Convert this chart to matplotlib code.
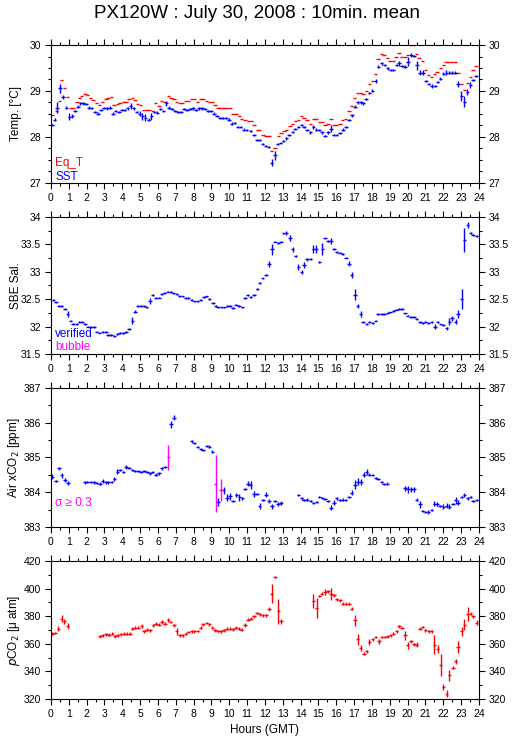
import numpy as np
import matplotlib
matplotlib.use('Agg')
import matplotlib.pyplot as plt
from matplotlib.ticker import MultipleLocator, FormatStrFormatter

plt.rcParams['font.family'] = ['Liberation Sans', 'DejaVu Sans']
plt.rcParams['axes.linewidth'] = 0.8

# ---------------- data (hour GMT, value) ----------------
# Panel 1: SST (blue) and equilibrator temperature (red)
sst_t = [0.05, 0.2, 0.33, 0.5, 0.67, 0.87, 1.03, 1.2, 1.35, 1.5, 1.65, 1.8, 1.97, 2.13, 2.28,
         2.47, 2.63, 2.8, 2.97, 3.13, 3.3, 3.47, 3.63, 3.8, 3.97, 4.13, 4.3, 4.47, 4.63, 4.8,
         4.97, 5.13, 5.3, 5.47, 5.63, 5.8, 5.97, 6.13, 6.3, 6.47, 6.63, 6.8, 6.97, 7.13, 7.3,
         7.47, 7.63, 7.8, 7.97, 8.13, 8.3, 8.47, 8.63, 8.8, 8.97, 9.13, 9.3, 9.47, 9.63, 9.8,
         9.97, 10.13, 10.3, 10.47, 10.63, 10.8, 10.97, 11.2, 11.38, 11.55, 11.7, 11.87, 12.03,
         12.2, 12.37, 12.55, 12.71, 12.88, 13.03, 13.2, 13.36, 13.55, 13.7, 13.87, 14.05, 14.2,
         14.37, 14.55, 14.71, 14.88, 15.05, 15.2, 15.36, 15.52, 15.7, 15.85, 16.02, 16.2, 16.38,
         16.55, 16.72, 16.88, 17.05, 17.2, 17.38, 17.52, 17.68, 17.85, 18.03, 18.2, 18.36, 18.54,
         18.71, 18.88, 19.05, 19.2, 19.38, 19.53, 19.7, 19.86, 20.02, 20.2, 20.35, 20.52, 20.7,
         20.86, 21.02, 21.18, 21.35, 21.52, 21.68, 21.84, 22.0, 22.17, 22.34, 22.5, 22.67, 22.84,
         23.02, 23.18, 23.35, 23.52, 23.68, 23.84]
sst_v = [28.26, 28.38, 28.64, 29.06, 28.87, 28.64, 28.44, 28.45, 28.56, 28.66, 28.73, 28.73,
         28.71, 28.64, 28.63, 28.55, 28.51, 28.58, 28.63, 28.62, 28.64, 28.51, 28.56, 28.55,
         28.58, 28.58, 28.62, 28.67, 28.62, 28.55, 28.51, 28.45, 28.42, 28.38, 28.45, 28.55,
         28.53, 28.61, 28.56, 28.73, 28.64, 28.61, 28.56, 28.55, 28.55, 28.61, 28.58, 28.61,
         28.62, 28.58, 28.62, 28.62, 28.61, 28.56, 28.56, 28.51, 28.45, 28.42, 28.42, 28.42,
         28.38, 28.29, 28.31, 28.22, 28.22, 28.16, 28.15, 28.13, 28.05, 27.93, 27.93, 27.84,
         27.80, 27.78, 27.44, 27.60, 27.84, 27.87, 27.91, 27.97, 28.04, 28.11, 28.17, 28.22,
         28.26, 28.21, 28.15, 28.10, 28.22, 28.16, 28.15, 28.10, 28.02, 28.10, 28.18, 28.04,
         28.05, 28.09, 28.16, 28.22, 28.37, 28.47, 28.66, 28.75, 28.75, 28.73, 28.82, 28.96,
         29.01, 29.22, 29.53, 29.60, 29.56, 29.49, 29.46, 29.46, 29.56, 29.60, 29.54, 29.53,
         29.64, 29.78, 29.76, 29.56, 29.40, 29.40, 29.22, 29.15, 29.11, 29.11, 29.20, 29.27,
         29.38, 29.40, 29.40, 29.40, 29.40, 29.15, 28.89, 28.77, 28.98, 29.13, 29.24, 29.33]
sst_err = {0.33: 0.12, 0.5: 0.1, 0.67: 0.05, 0.87: 0.04, 1.03: 0.08, 1.2: 0.04, 4.47: 0.07,
           4.97: 0.05, 5.13: 0.08, 5.3: 0.07, 5.47: 0.04, 5.63: 0.08, 6.47: 0.05, 12.37: 0.08,
           12.55: 0.09, 14.71: 0.05, 15.2: 0.04, 15.7: 0.07, 18.2: 0.05, 19.53: 0.06,
           20.02: 0.1, 20.2: 0.04, 20.52: 0.1, 20.7: 0.06, 20.86: 0.05, 21.35: 0.05,
           22.17: 0.05, 22.84: 0.06, 23.02: 0.1, 23.18: 0.12, 23.35: 0.06, 23.52: 0.06}
eqt_t = [0.07, 0.3, 0.47, 0.6, 0.75, 0.93, 1.1, 1.25, 1.45, 1.6, 1.72, 1.9, 2.04, 2.22, 2.37,
         2.56, 2.71, 2.9, 3.08, 3.21, 3.4, 3.53, 3.72, 3.87, 4.06, 4.2, 4.39, 4.56, 4.71, 4.86,
         5.03, 5.18, 5.36, 5.51, 5.7, 5.87, 6.06, 6.2, 6.39, 6.58, 6.73, 6.9, 7.05, 7.23, 7.38,
         7.55, 7.7, 7.89, 8.04, 8.22, 8.39, 8.54, 8.73, 8.88, 9.05, 9.2, 9.38, 9.53, 9.7, 9.85,
         10.04, 10.22, 10.37, 10.56, 10.69, 10.88, 11.07, 11.25, 11.38, 11.57, 11.7, 11.9,
         12.06, 12.22, 12.37, 12.56, 12.75, 12.9, 13.07, 13.2, 13.4, 13.55, 13.72, 13.87, 14.05,
         14.2, 14.37, 14.56, 14.71, 14.86, 15.05, 15.22, 15.36, 15.52, 15.7, 15.87, 16.02, 16.2,
         16.36, 16.52, 16.71, 16.86, 17.01, 17.2, 17.36, 17.5, 17.7, 17.85, 18.02, 18.21, 18.35,
         18.54, 18.69, 18.86, 19.01, 19.2, 19.35, 19.53, 19.66, 19.85, 20.0, 20.17, 20.32, 20.5,
         20.65, 20.84, 21.0, 21.16, 21.35, 21.5, 21.66, 21.85, 22.0, 22.15, 22.3, 22.47, 22.65,
         22.84, 23.03, 23.18, 23.35, 23.53, 23.68, 23.83]
eqt_v = [28.47, 28.56, 28.79, 29.24, 29.06, 28.87, 28.63, 28.62, 28.77, 28.84, 28.90, 28.93,
         28.91, 28.84, 28.80, 28.74, 28.69, 28.75, 28.82, 28.84, 28.86, 28.69, 28.71, 28.73,
         28.75, 28.75, 28.82, 28.85, 28.80, 28.71, 28.69, 28.58, 28.58, 28.58, 28.57, 28.73,
         28.68, 28.79, 28.77, 28.89, 28.85, 28.82, 28.77, 28.74, 28.74, 28.79, 28.78, 28.82,
         28.82, 28.77, 28.82, 28.82, 28.78, 28.77, 28.77, 28.69, 28.63, 28.62, 28.63, 28.64,
         28.62, 28.51, 28.51, 28.45, 28.40, 28.38, 28.35, 28.34, 28.26, 28.15, 28.15, 28.04,
         28.02, 28.02, 27.69, 27.75, 28.02, 28.08, 28.13, 28.15, 28.24, 28.28, 28.35, 28.38,
         28.46, 28.42, 28.38, 28.29, 28.40, 28.40, 28.32, 28.32, 28.26, 28.29, 28.40, 28.26,
         28.26, 28.29, 28.38, 28.40, 28.56, 28.67, 28.84, 28.95, 28.95, 28.93, 29.01, 29.15,
         29.22, 29.38, 29.69, 29.80, 29.78, 29.71, 29.65, 29.65, 29.73, 29.82, 29.75, 29.75,
         29.78, 29.995, 29.995, 29.80, 29.71, 29.66, 29.46, 29.35, 29.31, 29.36, 29.42, 29.49,
         29.56, 29.62, 29.62, 29.62, 29.62, 29.40, 29.16, 29.02, 29.18, 29.31, 29.46, 29.54]

# Panel 2: SBE salinity (all verified)
sal_t = [0.13, 0.28, 0.45, 0.6, 0.79, 0.93, 1.1, 1.25, 1.44, 1.59, 1.74, 1.9, 2.06, 2.22, 2.41,
         2.56, 2.71, 2.9, 3.07, 3.21, 3.36, 3.55, 3.72, 3.87, 4.06, 4.2, 4.39, 4.56, 4.71, 4.86,
         5.03, 5.21, 5.36, 5.55, 5.7, 5.87, 6.06, 6.2, 6.36, 6.54, 6.71, 6.86, 7.05, 7.2, 7.38,
         7.55, 7.7, 7.89, 8.04, 8.22, 8.39, 8.58, 8.73, 8.88, 9.07, 9.23, 9.38, 9.57, 9.72, 9.89,
         10.04, 10.22, 10.37, 10.54, 10.73, 10.88, 11.03, 11.2, 11.38, 11.57, 11.7, 11.87, 12.06,
         12.22, 12.41, 12.56, 12.75, 12.9, 13.03, 13.2, 13.4, 13.55, 13.72, 13.87, 14.05, 14.2,
         14.37, 14.56, 14.71, 14.86, 15.05, 15.22, 15.36, 15.52, 15.7, 15.87, 16.02, 16.2, 16.36,
         16.54, 16.71, 16.86, 17.05, 17.2, 17.36, 17.5, 17.7, 17.85, 18.04, 18.21, 18.35, 18.54,
         18.69, 18.86, 19.01, 19.2, 19.35, 19.53, 19.7, 19.85, 20.0, 20.2, 20.36, 20.5, 20.7,
         20.84, 21.0, 21.16, 21.35, 21.53, 21.68, 21.85, 22.0, 22.19, 22.34, 22.5, 22.69, 22.84,
         23.03, 23.18, 23.36, 23.53, 23.68, 23.87]
sal_v = [32.49, 32.44, 32.37, 32.37, 32.32, 32.23, 32.11, 32.05, 32.05, 32.08, 32.08, 32.05,
         32.00, 31.99, 31.99, 31.91, 31.89, 31.90, 31.90, 31.85, 31.85, 31.83, 31.87, 31.88,
         31.88, 31.90, 31.96, 32.11, 32.27, 32.37, 32.37, 32.37, 32.35, 32.47, 32.58, 32.52,
         32.53, 32.60, 32.61, 32.64, 32.63, 32.61, 32.59, 32.56, 32.55, 32.52, 32.52, 32.49,
         32.46, 32.46, 32.49, 32.54, 32.55, 32.50, 32.43, 32.37, 32.35, 32.35, 32.35, 32.37,
         32.37, 32.34, 32.40, 32.38, 32.35, 32.52, 32.58, 32.54, 32.58, 32.69, 32.79, 32.88,
         32.94, 33.14, 33.41, 33.55, 33.52, 33.55, 33.70, 33.71, 33.62, 33.41, 33.29, 33.09,
         33.00, 33.12, 33.23, 33.23, 33.41, 33.41, 33.18, 33.41, 33.61, 33.56, 33.56, 33.41,
         33.36, 33.35, 33.32, 33.26, 33.15, 32.94, 32.58, 32.38, 32.23, 32.08, 32.05, 32.08,
         32.06, 32.11, 32.23, 32.23, 32.23, 32.24, 32.26, 32.29, 32.31, 32.32, 32.32, 32.24,
         32.20, 32.18, 32.17, 32.14, 32.08, 32.06, 32.08, 32.06, 32.08, 32.00, 32.08, 32.04,
         32.03, 31.97, 32.09, 32.15, 32.09, 32.23, 32.50, 33.58, 33.85, 33.71, 33.67, 33.65]
sal_err = {0.93: 0.06, 4.56: 0.06, 4.71: 0.03, 5.55: 0.06, 12.22: 0.05, 12.41: 0.1,
           13.2: 0.03, 13.4: 0.05, 13.55: 0.05, 13.87: 0.06, 14.05: 0.04, 14.2: 0.05,
           14.37: 0.03, 14.71: 0.07, 14.86: 0.07, 15.22: 0.11, 15.7: 0.05, 16.71: 0.05,
           16.86: 0.06, 17.05: 0.1, 17.2: 0.04, 17.36: 0.05, 21.53: 0.04, 22.19: 0.03,
           22.34: 0.06, 22.5: 0.04, 22.69: 0.05, 22.84: 0.07, 23.03: 0.18, 23.18: 0.22,
           23.36: 0.05}

# Panel 3: atmospheric xCO2 (blue), sigma >= 0.3 points (magenta)
xco2_t = [0.07, 0.28, 0.45, 0.6, 0.79, 0.95, 1.9, 2.04, 2.22, 2.41, 2.56, 2.75, 2.9, 3.07,
          3.21, 3.4, 3.55, 3.72, 3.87, 4.06, 4.2, 4.39, 4.56, 4.71, 4.9, 5.05, 5.21, 5.4, 5.55,
          5.7, 5.89, 6.06, 6.2, 6.39, 6.73, 6.9, 7.89, 8.04, 8.22, 8.39, 8.54, 8.73, 8.88, 9.05,
          9.38, 9.68, 9.88, 10.04, 10.22, 10.4, 10.56, 10.73, 10.88, 11.05, 11.2, 11.38, 11.55,
          11.7, 11.88, 12.05, 12.22, 12.38, 12.56, 12.73, 12.9, 13.87, 14.05, 14.2, 14.37, 14.56,
          14.71, 14.9, 15.05, 15.22, 15.36, 15.52, 15.7, 15.87, 16.02, 16.2, 16.36, 16.52,
          16.71, 16.86, 17.05, 17.2, 17.38, 17.55, 17.7, 17.85, 18.04, 18.21, 18.35, 18.54,
          18.69, 18.86, 19.85, 20.0, 20.2, 20.36, 20.5, 20.7, 20.84, 21.0, 21.16, 21.35, 21.5,
          21.66, 21.81, 22.0, 22.19, 22.34, 22.53, 22.69, 22.84, 23.03, 23.18, 23.36, 23.53,
          23.68, 23.87]
xco2_v = [384.45, 384.33, 384.69, 384.49, 384.35, 384.27, 384.28, 384.30, 384.30, 384.28,
          384.27, 384.25, 384.32, 384.28, 384.28, 384.30, 384.37, 384.59, 384.64, 384.59,
          384.72, 384.69, 384.64, 384.61, 384.61, 384.59, 384.61, 384.57, 384.54, 384.57,
          384.51, 384.54, 384.69, 384.73, 385.96, 386.15, 385.46, 385.41, 385.31, 385.24,
          385.22, 385.34, 385.31, 385.17, 383.72, 384.06, 383.84, 383.89, 383.74, 383.92,
          383.85, 383.82, 384.09, 384.25, 384.20, 383.94, 383.94, 383.61, 383.77, 383.93,
          383.75, 383.60, 383.74, 383.67, 383.69, 383.92, 383.82, 383.77, 383.79, 383.74,
          383.69, 383.72, 383.85, 383.84, 383.80, 383.75, 383.56, 383.70, 383.82, 383.77,
          383.79, 383.77, 383.85, 383.99, 384.22, 384.30, 384.30, 384.51, 384.59, 384.51,
          384.49, 384.42, 384.37, 384.30, 384.23, 384.25, 384.11, 384.08, 384.08, 384.08,
          383.79, 383.66, 383.45, 383.43, 383.43, 383.50, 383.67, 383.66, 383.61, 383.58,
          383.61, 383.58, 383.67, 383.77, 383.70, 383.87, 383.92, 383.82, 383.87, 383.74,
          383.77]
xco2_err = {0.07: 0.08, 0.45: 0.05, 0.6: 0.07, 0.79: 0.06, 0.95: 0.06, 2.9: 0.06, 3.55: 0.06,
            3.72: 0.07, 4.2: 0.05, 6.2: 0.05, 6.73: 0.1, 6.9: 0.07, 8.88: 0.05, 9.05: 0.05,
            9.38: 0.11, 9.68: 0.1, 9.88: 0.1, 10.04: 0.1, 10.4: 0.05, 10.56: 0.1, 11.05: 0.07,
            11.2: 0.12, 11.38: 0.09, 11.7: 0.09, 12.05: 0.08, 12.22: 0.06, 12.38: 0.07,
            12.73: 0.06, 12.9: 0.07, 15.7: 0.07, 15.87: 0.07, 16.86: 0.07, 17.05: 0.12,
            17.2: 0.1, 17.38: 0.08, 17.55: 0.07, 17.7: 0.08, 19.85: 0.07, 20.0: 0.1,
            20.2: 0.08, 20.36: 0.08, 20.7: 0.1, 21.16: 0.07, 21.5: 0.08, 21.66: 0.06,
            22.0: 0.07, 22.19: 0.07, 22.34: 0.07, 22.69: 0.1, 22.84: 0.07, 23.18: 0.06}
xco2_hi_t = [6.58, 9.23, 9.53]
xco2_hi_v = [385.00, 384.25, 384.06]
xco2_hi_err = [0.36, 0.82, 0.32]

# Panel 4: seawater pCO2 (red)
pco2_t = [0.07, 0.22, 0.41, 0.6, 0.75, 0.93, 2.75, 2.9, 3.08, 3.25, 3.44, 3.59, 3.74, 3.9,
          4.09, 4.24, 4.43, 4.56, 4.71, 4.9, 5.08, 5.23, 5.4, 5.55, 5.74, 5.89, 6.06, 6.24,
          6.39, 6.58, 6.71, 6.9, 7.05, 7.23, 7.38, 7.55, 7.7, 7.89, 8.04, 8.22, 8.39, 8.54,
          8.73, 8.88, 9.05, 9.2, 9.38, 9.53, 9.7, 9.85, 10.04, 10.22, 10.37, 10.56, 10.69,
          10.88, 11.05, 11.22, 11.38, 11.55, 11.7, 11.87, 12.06, 12.22, 12.37, 12.56, 12.75,
          12.9, 14.71, 14.9, 15.05, 15.18, 15.36, 15.52, 15.7, 15.87, 16.02, 16.2, 16.36,
          16.52, 16.71, 16.86, 17.05, 17.2, 17.36, 17.55, 17.7, 17.85, 18.04, 18.21, 18.4,
          18.54, 18.73, 18.88, 19.05, 19.2, 19.38, 19.53, 19.7, 19.85, 20.0, 20.2, 20.36, 20.5,
          20.7, 20.84, 21.0, 21.2, 21.35, 21.5, 21.68, 21.85, 22.0, 22.19, 22.34, 22.53, 22.69,
          22.84, 23.03, 23.18, 23.36, 23.53, 23.68, 23.87]
pco2_v = [367.3, 367.8, 371.0, 378.2, 376.3, 372.9, 365.4, 366.1, 366.9, 366.6, 367.3, 365.4,
          366.1, 366.9, 367.3, 367.3, 367.3, 371.0, 371.7, 371.7, 372.7, 369.0, 370.2, 369.8,
          373.4, 374.6, 373.9, 375.8, 374.6, 377.0, 375.8, 373.4, 369.0, 366.1, 366.1, 367.3,
          368.5, 369.0, 369.0, 369.3, 371.7, 374.1, 375.1, 374.1, 371.7, 369.8, 369.3, 369.0,
          369.8, 371.0, 371.0, 370.5, 371.7, 371.0, 370.2, 373.4, 377.5, 378.2, 379.9, 382.3,
          381.4, 380.6, 380.6, 385.0, 396.3, 408.4, 383.5, 376.3, 390.8, 385.9, 394.6, 396.3,
          397.5, 398.0, 396.3, 395.1, 392.2, 391.5, 389.1, 389.1, 389.1, 385.5, 377.0, 363.2,
          357.0, 352.9, 354.5, 361.4, 363.2, 364.9, 361.8, 364.9, 364.9, 365.4, 366.1, 367.3,
          369.0, 372.7, 371.5, 366.1, 358.9, 361.8, 359.6, 359.4, 371.0, 372.2, 369.8, 369.0,
          369.0, 359.4, 356.0, 344.4, 328.7, 323.9, 337.1, 342.7, 347.3, 357.7, 369.0, 373.9,
          381.4, 381.8, 379.9, 375.3]
pco2_err = {0.41: 2.0, 0.6: 2.5, 0.75: 2.0, 0.93: 2.0, 5.08: 1.5, 6.24: 1.5, 6.58: 1.5,
            7.05: 2.5, 10.88: 1.5, 12.22: 1.5, 12.37: 7.0, 12.75: 9.0, 12.9: 2.0, 14.71: 5.0,
            14.9: 7.5, 15.36: 2.0, 15.7: 4.5, 17.05: 4.0, 17.2: 4.0, 17.36: 2.0, 17.85: 2.0,
            18.4: 2.0, 19.85: 3.5, 20.0: 2.5, 20.5: 2.0, 21.5: 7.0, 21.68: 3.0, 21.85: 8.0,
            22.0: 2.0, 22.19: 2.5, 22.34: 4.0, 22.69: 2.0, 22.84: 4.0, 23.03: 3.0, 23.18: 4.0,
            23.36: 5.0, 23.87: 2.0}

hours = list(range(0, 25))

blue = '#0000ff'
red = '#ff0000'
magenta = '#ff00ff'
half_bin = 0.1


def err_list(t, errs, base):
    return [errs.get(x, base) for x in t]


def style_axis(ax, ylim, major, minor, label):
    ax.set_xlim(0, 24)
    ax.set_ylim(*ylim)
    ax.set_xticks(hours)
    ax.xaxis.set_minor_locator(MultipleLocator(0.5))
    ax.yaxis.set_major_locator(MultipleLocator(major))
    ax.yaxis.set_minor_locator(MultipleLocator(minor))
    ax.yaxis.set_major_formatter(FormatStrFormatter('%g'))
    ax.tick_params(which='both', direction='out', top=True, right=True,
                   labelright=True, labelsize=7.5, width=0.8)
    ax.tick_params(which='major', length=4.5, pad=2.5)
    ax.tick_params(which='minor', length=2.5)
    ax.tick_params(axis='y', which='major', pad=2.5)
    ax.set_ylabel(label, fontsize=8.5)
    ax.yaxis.set_label_coords(-0.068, 0.5)


fig = plt.figure(figsize=(5.15, 7.39), dpi=100)
boxes = [(0.099, 0.7524, 0.831, 0.1867),
         (0.099, 0.5210, 0.831, 0.1854),
         (0.099, 0.2869, 0.831, 0.1881),
         (0.099, 0.0541, 0.831, 0.1867)]
ax1, ax2, ax3, ax4 = [fig.add_axes(b) for b in boxes]

eb = dict(fmt='none', capsize=0, elinewidth=1.0)

# panel 1
ax1.errorbar(eqt_t, eqt_v, xerr=half_bin, ecolor=red, **eb)
ax1.errorbar(sst_t, sst_v, xerr=half_bin, yerr=err_list(sst_t, sst_err, 0.025), ecolor=blue, **eb)
style_axis(ax1, (27, 30), 1, 0.25, 'Temp. [°C]')
ax1.text(0.01, 0.12, 'Eq_T', color=red, fontsize=8.5, transform=ax1.transAxes)
ax1.text(0.01, 0.025, 'SST', color=blue, fontsize=8.5, transform=ax1.transAxes)

# panel 2
ax2.errorbar(sal_t, sal_v, xerr=half_bin, yerr=err_list(sal_t, sal_err, 0.015), ecolor=blue, **eb)
style_axis(ax2, (31.5, 34), 0.5, 0.25, 'SBE Sal.')
ax2.text(0.01, 0.125, 'verified', color=blue, fontsize=8.5, transform=ax2.transAxes)
ax2.text(0.01, 0.03, 'bubble', color=magenta, fontsize=8.5, transform=ax2.transAxes)

# panel 3
ax3.errorbar(xco2_t, xco2_v, xerr=half_bin, yerr=err_list(xco2_t, xco2_err, 0.03), ecolor=blue, **eb)
ax3.errorbar(xco2_hi_t, xco2_hi_v, xerr=half_bin, yerr=xco2_hi_err, ecolor=magenta, **eb)
style_axis(ax3, (383, 387), 1, 0.5, 'Air xCO$_2$ [ppm]')
ax3.text(0.01, 0.15, '\u03c3 \u2265 0.3', color=magenta, fontsize=8.5, transform=ax3.transAxes)

# panel 4
ax4.errorbar(pco2_t, pco2_v, xerr=half_bin, yerr=err_list(pco2_t, pco2_err, 1.0), ecolor=red, **eb)
style_axis(ax4, (320, 420), 20, 10, '$p$CO$_2$ [\u03bc atm]')
ax4.set_xlabel('Hours (GMT)', fontsize=8.5, labelpad=4)

fig.text(0.5, 0.982, 'PX120W : July 30, 2008 : 10min. mean', ha='center', va='center',
         fontsize=13.5)

fig.savefig('out.png', dpi=100)
